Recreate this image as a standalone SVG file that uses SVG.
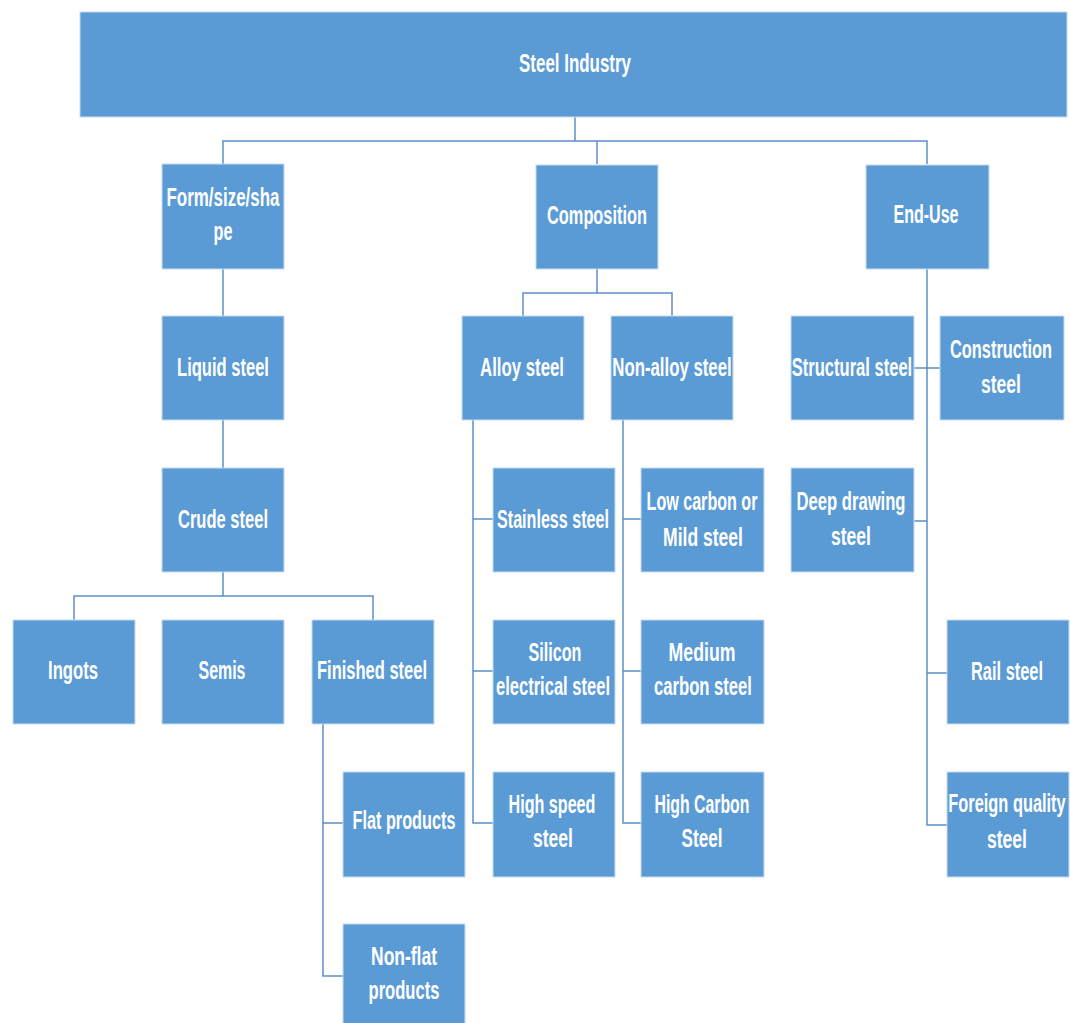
<svg xmlns="http://www.w3.org/2000/svg" width="1070" height="1023" viewBox="0 0 1070 1023">
<style>
.b{fill:#5B9BD5;stroke:#C9DCF0;stroke-width:1}
.t{font-family:"Liberation Sans",Arial,sans-serif;font-weight:bold;font-size:25px;fill:#FFFFFF;text-anchor:middle}
.c{fill:none;stroke:#5E8FC6;stroke-width:1.5}
</style>
<rect width="1070" height="1023" fill="#FFFFFF"/>
<g id="connectors">
<path class="c" d="M575 117V141M223 164V141H927V164M597 141V164"/>
<path class="c" d="M223 269V316M223 420V468M223 572V596M74 620V596H373V620"/>
<path class="c" d="M323 724V976H343M323 823H343"/>
<path class="c" d="M597 269V293M523 316V293H672V316"/>
<path class="c" d="M473 420V823H493M473 519H493M473 671H493"/>
<path class="c" d="M623 420V823H641M623 519H641M623 671H641"/>
<path class="c" d="M927 269V825H947M914 368H940M914 521H927M927 673H947"/>
</g>
<g id="n-steel-industry"><rect class="b" x="80" y="12" width="987" height="105"/><text class="t" transform="translate(575 72) scale(0.677 1)">Steel Industry</text></g>
<g id="n-form"><rect class="b" x="162" y="164" width="122" height="105"/><text class="t" transform="translate(223 206) scale(0.678 1)">Form/size/sha</text><text class="t" transform="translate(223 240) scale(0.65 1)">pe</text></g>
<g id="n-composition"><rect class="b" x="536" y="165" width="122" height="104"/><text class="t" transform="translate(597 224) scale(0.654 1)">Composition</text></g>
<g id="n-enduse"><rect class="b" x="866" y="165" width="123" height="104"/><text class="t" transform="translate(926 223) scale(0.641 1)">End-Use</text></g>
<g id="n-liquid"><rect class="b" x="162" y="316" width="122" height="104"/><text class="t" transform="translate(223 376) scale(0.662 1)">Liquid steel</text></g>
<g id="n-crude"><rect class="b" x="162" y="468" width="122" height="104"/><text class="t" transform="translate(223 528) scale(0.661 1)">Crude steel</text></g>
<g id="n-ingots"><rect class="b" x="13" y="620" width="122" height="104"/><text class="t" transform="translate(73 679) scale(0.667 1)">Ingots</text></g>
<g id="n-semis"><rect class="b" x="162" y="620" width="122" height="104"/><text class="t" transform="translate(222 679) scale(0.638 1)">Semis</text></g>
<g id="n-finished"><rect class="b" x="312" y="620" width="122" height="104"/><text class="t" transform="translate(372 679) scale(0.66 1)">Finished steel</text></g>
<g id="n-flat"><rect class="b" x="343" y="772" width="122" height="105"/><text class="t" transform="translate(404 829) scale(0.65 1)">Flat products</text></g>
<g id="n-nonflat"><rect class="b" x="343" y="924" width="122" height="105"/><text class="t" transform="translate(404 965) scale(0.699 1)">Non-flat</text><text class="t" transform="translate(404 999) scale(0.664 1)">products</text></g>
<g id="n-alloy"><rect class="b" x="462" y="316" width="122" height="104"/><text class="t" transform="translate(522 376) scale(0.672 1)">Alloy steel</text></g>
<g id="n-nonalloy"><rect class="b" x="611" y="316" width="122" height="104"/><text class="t" transform="translate(672 376) scale(0.672 1)">Non-alloy steel</text></g>
<g id="n-stainless"><rect class="b" x="493" y="468" width="122" height="104"/><text class="t" transform="translate(553 528) scale(0.645 1)">Stainless steel</text></g>
<g id="n-silicon"><rect class="b" x="493" y="620" width="122" height="104"/><text class="t" transform="translate(555 661) scale(0.646 1)">Silicon</text><text class="t" transform="translate(553 695) scale(0.662 1)">electrical steel</text></g>
<g id="n-highspeed"><rect class="b" x="493" y="772" width="122" height="105"/><text class="t" transform="translate(552 813) scale(0.645 1)">High speed</text><text class="t" transform="translate(553 847) scale(0.702 1)">steel</text></g>
<g id="n-lowcarbon"><rect class="b" x="641" y="468" width="123" height="104"/><text class="t" transform="translate(702 510) scale(0.644 1)">Low carbon or</text><text class="t" transform="translate(703 546) scale(0.702 1)">Mild steel</text></g>
<g id="n-medium"><rect class="b" x="641" y="620" width="123" height="104"/><text class="t" transform="translate(702 661) scale(0.709 1)">Medium</text><text class="t" transform="translate(703 695) scale(0.665 1)">carbon steel</text></g>
<g id="n-highcarbon"><rect class="b" x="641" y="772" width="123" height="105"/><text class="t" transform="translate(702 813) scale(0.633 1)">High Carbon</text><text class="t" transform="translate(702 847) scale(0.686 1)">Steel</text></g>
<g id="n-structural"><rect class="b" x="791" y="316" width="123" height="104"/><text class="t" transform="translate(852 376) scale(0.662 1)">Structural steel</text></g>
<g id="n-construction"><rect class="b" x="940" y="316" width="124" height="104"/><text class="t" transform="translate(1001 358) scale(0.656 1)">Construction</text><text class="t" transform="translate(1001 393) scale(0.702 1)">steel</text></g>
<g id="n-deepdrawing"><rect class="b" x="791" y="468" width="123" height="104"/><text class="t" transform="translate(851 510) scale(0.665 1)">Deep drawing</text><text class="t" transform="translate(851 545) scale(0.702 1)">steel</text></g>
<g id="n-rail"><rect class="b" x="947" y="620" width="122" height="104"/><text class="t" transform="translate(1007 680) scale(0.656 1)">Rail steel</text></g>
<g id="n-foreign"><rect class="b" x="947" y="772" width="122" height="105"/><text class="t" transform="translate(1007 812) scale(0.655 1)">Foreign quality</text><text class="t" transform="translate(1007 848) scale(0.702 1)">steel</text></g>
</svg>
